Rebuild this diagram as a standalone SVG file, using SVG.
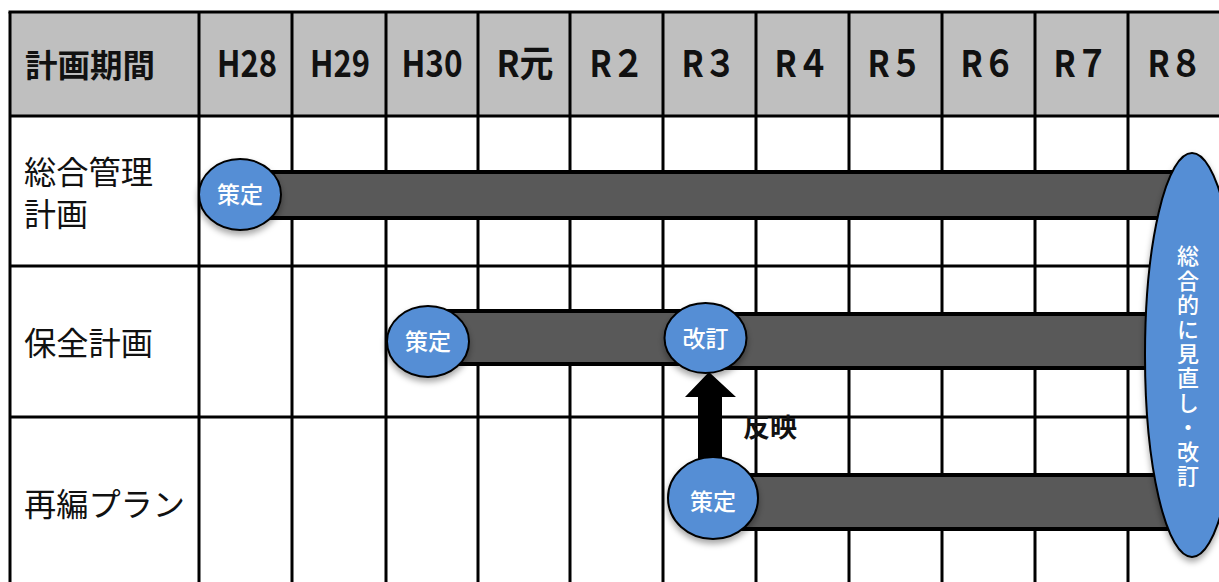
<svg xmlns="http://www.w3.org/2000/svg" width="1219" height="582" viewBox="0 0 1219 582">
<defs>
<filter id="sh" x="-30%" y="-30%" width="160%" height="170%">
<feDropShadow dx="0" dy="4" stdDeviation="3" flood-color="#000" flood-opacity="0.35"/>
</filter>
</defs>
<style>
.grid{stroke:#000;stroke-width:3;fill:none}
.hdr{fill:#bfbfbf}
.yr{font-family:"Noto Sans CJK JP","Noto Sans",sans-serif;font-size:37px;font-weight:bold;fill:#111;text-anchor:middle}
.lbl{font-family:"Noto Sans CJK JP",sans-serif;font-size:32px;fill:#111;dominant-baseline:central}
.bar{fill:#595959;stroke:#000;stroke-width:4}
.node{fill:#558ed5;stroke:#000;stroke-width:2;filter:url(#sh)}
.nt{font-family:"Noto Sans CJK JP",sans-serif;font-size:23px;font-weight:500;fill:#fff;text-anchor:middle;dominant-baseline:central}
.vt{font-family:"Noto Sans CJK JP",sans-serif;font-size:22px;font-weight:500;fill:#fff;writing-mode:vertical-rl;letter-spacing:2.4px}
</style>
<rect width="1219" height="582" fill="#fff"/>
<g id="table">
<rect class="hdr" x="10" y="12" width="1212" height="104"/>
<g class="grid">
<line x1="8.5" y1="12" x2="1219" y2="12"/>
<line x1="10" y1="116" x2="1219" y2="116"/>
<line x1="10" y1="266" x2="1219" y2="266"/>
<line x1="10" y1="417" x2="1219" y2="417"/>
<line x1="10" y1="12" x2="10" y2="582"/>
<line x1="199" y1="12" x2="199" y2="582"/>
<line x1="292" y1="12" x2="292" y2="582"/>
<line x1="386" y1="12" x2="386" y2="582"/>
<line x1="478" y1="12" x2="478" y2="582"/>
<line x1="570" y1="12" x2="570" y2="582"/>
<line x1="663" y1="12" x2="663" y2="582"/>
<line x1="756" y1="12" x2="756" y2="582"/>
<line x1="849" y1="12" x2="849" y2="582"/>
<line x1="942" y1="12" x2="942" y2="582"/>
<line x1="1035" y1="12" x2="1035" y2="582"/>
<line x1="1128" y1="12" x2="1128" y2="582"/>
</g>
<text x="25" y="63" class="lbl" font-weight="bold" font-size="33" textLength="130" lengthAdjust="spacingAndGlyphs">計画期間</text>
<text class="yr" x="247" y="77" textLength="60" lengthAdjust="spacingAndGlyphs">H28</text>
<text class="yr" x="340" y="77" textLength="60" lengthAdjust="spacingAndGlyphs">H29</text>
<text class="yr" x="432" y="77" textLength="61" lengthAdjust="spacingAndGlyphs">H30</text>
<text class="yr" x="525" y="77" textLength="57" lengthAdjust="spacingAndGlyphs">R元</text>
<text class="yr" x="617" y="77" textLength="55" lengthAdjust="spacingAndGlyphs">R２</text>
<text class="yr" x="709" y="77" textLength="55" lengthAdjust="spacingAndGlyphs">R３</text>
<text class="yr" x="802" y="77" textLength="55" lengthAdjust="spacingAndGlyphs">R４</text>
<text class="yr" x="895" y="77" textLength="55" lengthAdjust="spacingAndGlyphs">R５</text>
<text class="yr" x="988" y="77" textLength="55" lengthAdjust="spacingAndGlyphs">R６</text>
<text class="yr" x="1081" y="77" textLength="55" lengthAdjust="spacingAndGlyphs">R７</text>
<text class="yr" x="1175" y="77" textLength="55" lengthAdjust="spacingAndGlyphs">R８</text>
<text class="lbl" x="24" y="170" textLength="129" lengthAdjust="spacingAndGlyphs">総合管理</text>
<text class="lbl" x="24" y="212" textLength="64" lengthAdjust="spacingAndGlyphs">計画</text>
<text class="lbl" x="24" y="341" textLength="129" lengthAdjust="spacingAndGlyphs">保全計画</text>
<text class="lbl" x="24" y="502" textLength="161" lengthAdjust="spacingAndGlyphs">再編プラン</text>
</g>
<g id="bars">
<rect class="bar" x="240" y="172" width="970" height="46"/>
<rect class="bar" x="428" y="311" width="277" height="53"/>
<rect class="bar" x="705" y="314" width="500" height="54"/>
<rect class="bar" x="713" y="475" width="490" height="54"/>
</g>
<g id="connectors">
<polygon points="698,470 698,397 685,397 709,372 736,397 722,397 722,470" fill="#000"/>
<text x="743" y="425" font-family="'Noto Sans CJK JP',sans-serif" font-size="26" font-weight="bold" fill="#111" dominant-baseline="central" textLength="54" lengthAdjust="spacingAndGlyphs">反映</text>
</g>
<g id="n-sakutei1">
<ellipse class="node" cx="240" cy="194.5" rx="41" ry="35.5"/>
<text class="nt" x="240" y="193">策定</text>
</g>
<g id="n-sakutei2">
<ellipse class="node" cx="428" cy="341.5" rx="41" ry="35.5"/>
<text class="nt" x="428" y="340">策定</text>
</g>
<g id="n-kaitei">
<ellipse class="node" cx="705.5" cy="338" rx="41" ry="35"/>
<text class="nt" x="705.5" y="337">改訂</text>
</g>
<g id="n-sakutei3">
<ellipse class="node" cx="713" cy="498" rx="45" ry="41"/>
<text class="nt" x="713" y="500">策定</text>
</g>
<g id="n-review">
<ellipse class="node" cx="1192" cy="355" rx="47" ry="202"/>
<text class="vt" x="1188" y="245">総合的に見直し・改訂</text>
</g>
</svg>
